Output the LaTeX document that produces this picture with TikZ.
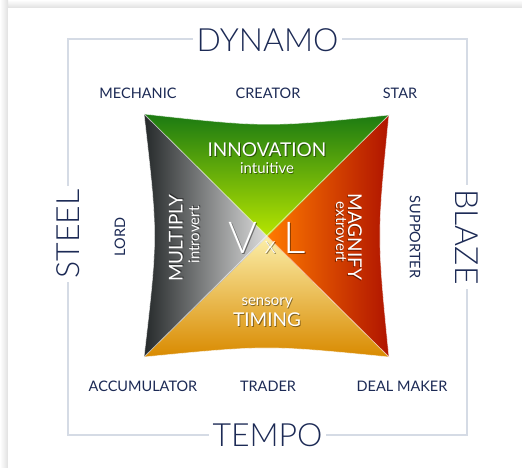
\documentclass[tikz,border=0pt]{standalone}
\usepackage{fontspec}
\setmainfont{Lato}
\newfontfamily\lightfont{Lato}[UprightFont=* Light]
\definecolor{navy}{HTML}{1C2A55}
\definecolor{framecol}{HTML}{D5DBE5}
\definecolor{gA}{HTML}{1B7A12}
\definecolor{gB}{HTML}{5AAA0C}
\definecolor{gC}{HTML}{B8E600}
\definecolor{rA}{HTML}{FF7A00}
\definecolor{rB}{HTML}{E24A00}
\definecolor{rC}{HTML}{B01400}
\definecolor{yA}{HTML}{FBEEA8}
\definecolor{yB}{HTML}{F2C22A}
\definecolor{yC}{HTML}{D98A00}
\definecolor{kA}{HTML}{25292A}
\definecolor{kB}{HTML}{868A8A}
\definecolor{kC}{HTML}{DCDCDC}
\newcommand{\shnode}[4]{%
  \node[#2, text=black, text opacity=0.45, xshift=0.9pt, yshift=-0.9pt] (#1s) at #3 {#4};
  \node[#2] (#1) at #3 {#4};}
\begin{document}
\begin{tikzpicture}[x=1pt,y=-1pt,
  title/.style={font=\lightfont\fontsize{32}{32}\selectfont, text=navy, fill=white, inner sep=4pt},
  role/.style={font=\fontsize{14.5}{14.5}\selectfont, text=navy},
  quad/.style={font=\fontsize{19}{19}\selectfont, text=white},
  sub/.style={font=\fontsize{15}{15}\selectfont, text=white},
  frame/.style={draw=framecol, line width=1.2pt},
  rim/.style={draw=white, draw opacity=0.6, line width=0.8pt}]
\useasboundingbox (0,0) rectangle (522,468);
% card and its shadow
\fill[white] (0,0) rectangle (522,468);
\shade[top color=white, bottom color=black!12] (0,0) rectangle (522,8);
\shade[left color=white, right color=black!12] (0,0) rectangle (8,468);
\fill[white] (8,8) rectangle (522,468);
% frame
\coordinate (ftl) at (68,39);
\coordinate (fbr) at (467,435);
\draw[frame] (ftl) rectangle (fbr);
% square
\coordinate (tl) at (144,114);
\coordinate (tr) at (389,115);
\coordinate (br) at (389,357);
\coordinate (bl) at (144,357);
\coordinate (c) at (267,237);
\shade[top color=gA, middle color=gB, bottom color=gC]
  (c) -- (tl) .. controls (267,127.5) .. (tr) -- cycle;
\shade[left color=rA, middle color=rB, right color=rC]
  (c) -- (tr) .. controls (377,236) .. (br) -- cycle;
\shade[top color=yA, middle color=yB, bottom color=yC]
  (c) -- (br) .. controls (267,345) .. (bl) -- cycle;
\shade[left color=kA, middle color=kB, right color=kC]
  (c) -- (bl) .. controls (158,236) .. (tl) -- cycle;
\draw[rim] (tl) .. controls (267,127.5) .. (tr) .. controls (377,236) .. (br)
  .. controls (267,345) .. (bl) .. controls (158,236) .. (tl) -- cycle;
\draw[rim] (tl) -- (br);
\draw[rim] (tr) -- (bl);
% titles
\node[title] (dyn) at (267.5,40) {DYNAMO};
\node[title] (tempo) at (267.5,435) {TEMPO};
\node[title, rotate=90] (steel) at (68,234) {STEEL};
\node[title, rotate=-90] (blaze) at (467,237) {BLAZE};
% roles
\node[role] (mech) at (138,93) {MECHANIC};
\node[role] (creator) at (268,93) {CREATOR};
\node[role] (star) at (400,93) {STAR};
\node[role] (accum) at (143,386) {ACCUMULATOR};
\node[role] (trader) at (268,386) {TRADER};
\node[role] (deal) at (402,386) {DEAL MAKER};
\node[role, rotate=90] (lord) at (120,237) {LORD};
\node[role, rotate=-90] (supp) at (415,237) {SUPPORTER};
% quadrant labels
\shnode{innov}{quad}{(267,150)}{INNOVATION}
\shnode{intu}{sub}{(267,168)}{intuitive}
\shnode{mult}{quad, rotate=90}{(176,238)}{MULTIPLY}
\shnode{intro}{sub, rotate=90}{(194,235)}{introvert}
\shnode{magn}{quad, rotate=-90}{(355,237)}{MAGNIFY}
\shnode{extro}{sub, rotate=-90}{(341,232)}{extrovert}
\shnode{sens}{sub}{(267,303)}{sensory}
\shnode{timing}{quad}{(267,320)}{TIMING}
\shnode{vxl}{text=white, font=\lightfont}{(267,238)}{\fontsize{44}{44}\selectfont V\,{\fontsize{24}{24}\selectfont x}\,L}
\end{tikzpicture}
\end{document}
